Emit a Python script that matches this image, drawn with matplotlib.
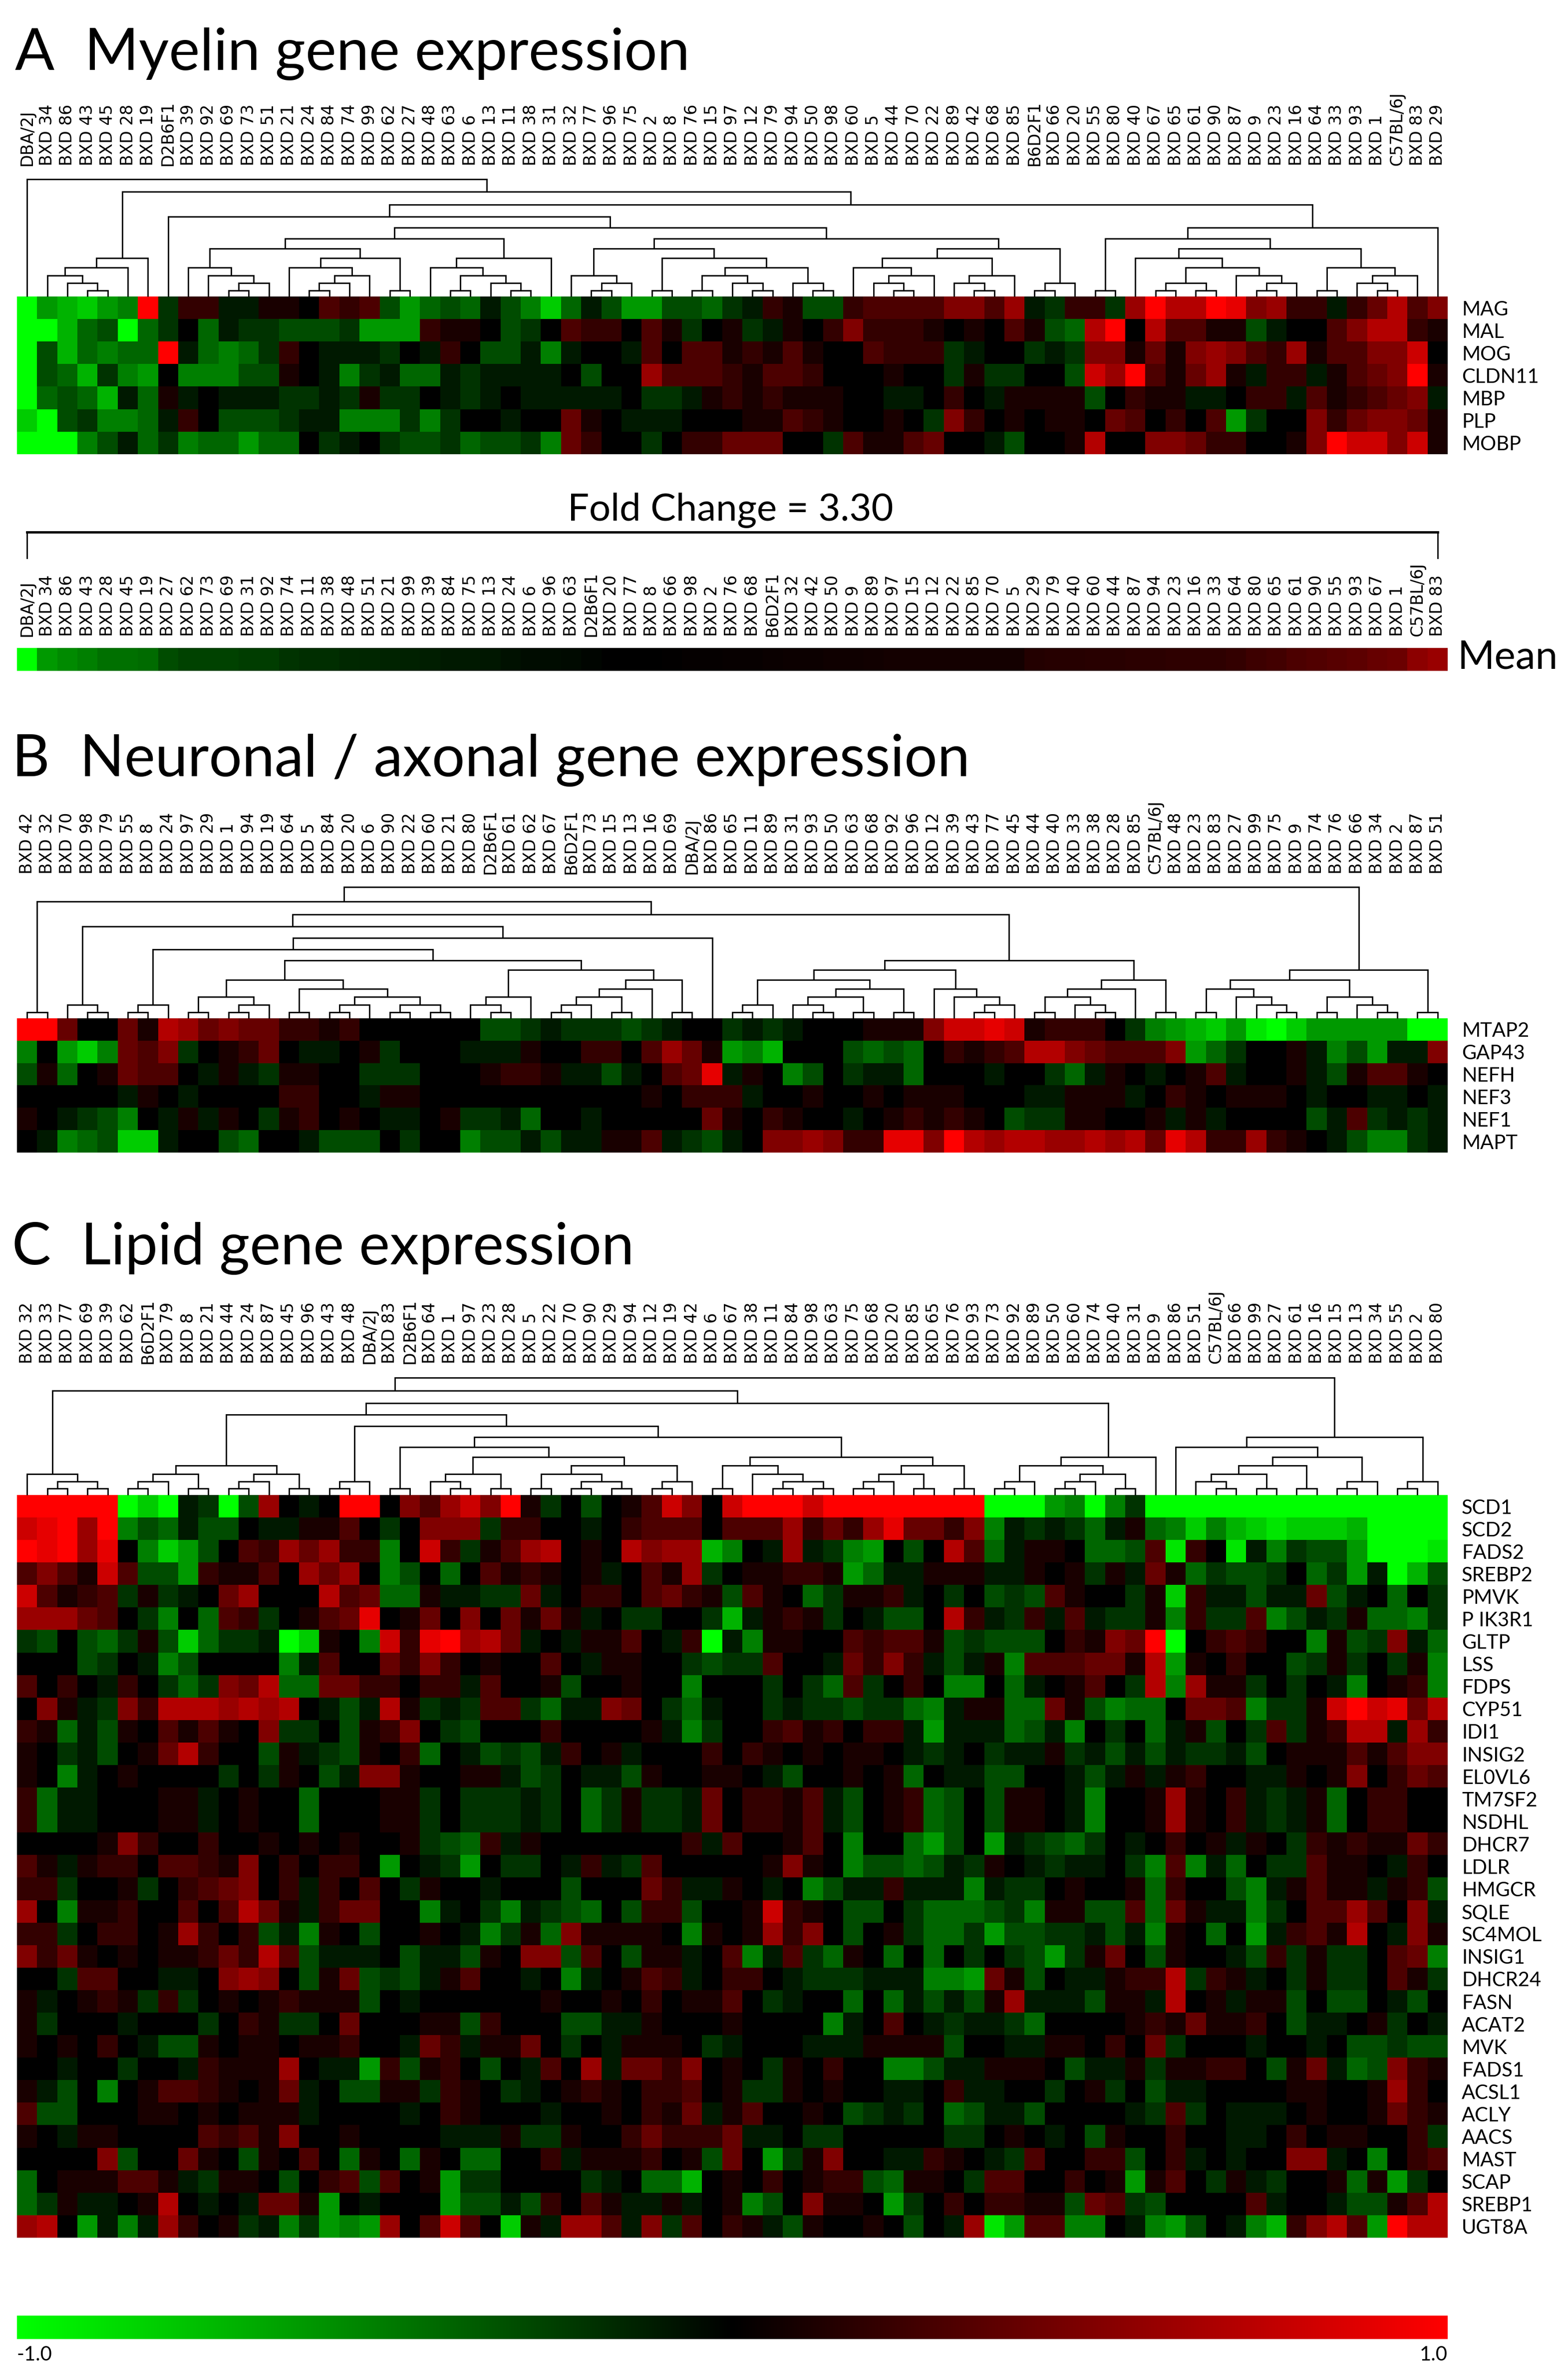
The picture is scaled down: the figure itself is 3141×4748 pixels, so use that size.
import matplotlib
matplotlib.use('Agg')
import matplotlib.pyplot as plt
from matplotlib.cm import ScalarMappable
from matplotlib.colors import LinearSegmentedColormap, Normalize
import numpy as np

# Strain order of each panel, left to right
strains_myelin = ['DBA/2J', 'BXD 34', 'BXD 86', 'BXD 43', 'BXD 45', 'BXD 28', 'BXD 19', 'D2B6F1', 'BXD 39', 'BXD 92', 'BXD 69', 'BXD 73', 'BXD 51', 'BXD 21', 'BXD 24', 'BXD 84', 'BXD 74', 'BXD 99', 'BXD 62', 'BXD 27', 'BXD 48', 'BXD 63', 'BXD 6', 'BXD 13', 'BXD 11', 'BXD 38', 'BXD 31', 'BXD 32', 'BXD 77', 'BXD 96', 'BXD 75', 'BXD 2', 'BXD 8', 'BXD 76', 'BXD 15', 'BXD 97', 'BXD 12', 'BXD 79', 'BXD 94', 'BXD 50', 'BXD 98', 'BXD 60', 'BXD 5', 'BXD 44', 'BXD 70', 'BXD 22', 'BXD 89', 'BXD 42', 'BXD 68', 'BXD 85', 'B6D2F1', 'BXD 66', 'BXD 20', 'BXD 55', 'BXD 80', 'BXD 40', 'BXD 67', 'BXD 65', 'BXD 61', 'BXD 90', 'BXD 87', 'BXD 9', 'BXD 23', 'BXD 16', 'BXD 64', 'BXD 33', 'BXD 93', 'BXD 1', 'C57BL/6J', 'BXD 83', 'BXD 29']
strains_mean = ['DBA/2J', 'BXD 34', 'BXD 86', 'BXD 43', 'BXD 28', 'BXD 45', 'BXD 19', 'BXD 27', 'BXD 62', 'BXD 73', 'BXD 69', 'BXD 31', 'BXD 92', 'BXD 74', 'BXD 11', 'BXD 38', 'BXD 48', 'BXD 51', 'BXD 21', 'BXD 99', 'BXD 39', 'BXD 84', 'BXD 75', 'BXD 13', 'BXD 24', 'BXD 6', 'BXD 96', 'BXD 63', 'D2B6F1', 'BXD 20', 'BXD 77', 'BXD 8', 'BXD 66', 'BXD 98', 'BXD 2', 'BXD 76', 'BXD 68', 'B6D2F1', 'BXD 32', 'BXD 42', 'BXD 50', 'BXD 9', 'BXD 89', 'BXD 97', 'BXD 15', 'BXD 12', 'BXD 22', 'BXD 85', 'BXD 70', 'BXD 5', 'BXD 29', 'BXD 79', 'BXD 40', 'BXD 60', 'BXD 44', 'BXD 87', 'BXD 94', 'BXD 23', 'BXD 16', 'BXD 33', 'BXD 64', 'BXD 80', 'BXD 65', 'BXD 61', 'BXD 90', 'BXD 55', 'BXD 93', 'BXD 67', 'BXD 1', 'C57BL/6J', 'BXD 83']
strains_neuron = ['BXD 42', 'BXD 32', 'BXD 70', 'BXD 98', 'BXD 79', 'BXD 55', 'BXD 8', 'BXD 24', 'BXD 97', 'BXD 29', 'BXD 1', 'BXD 94', 'BXD 19', 'BXD 64', 'BXD 5', 'BXD 84', 'BXD 20', 'BXD 6', 'BXD 90', 'BXD 22', 'BXD 60', 'BXD 21', 'BXD 80', 'D2B6F1', 'BXD 61', 'BXD 62', 'BXD 67', 'B6D2F1', 'BXD 73', 'BXD 15', 'BXD 13', 'BXD 16', 'BXD 69', 'DBA/2J', 'BXD 86', 'BXD 65', 'BXD 11', 'BXD 89', 'BXD 31', 'BXD 93', 'BXD 50', 'BXD 63', 'BXD 68', 'BXD 92', 'BXD 96', 'BXD 12', 'BXD 39', 'BXD 43', 'BXD 77', 'BXD 45', 'BXD 44', 'BXD 40', 'BXD 33', 'BXD 38', 'BXD 28', 'BXD 85', 'C57BL/6J', 'BXD 48', 'BXD 23', 'BXD 83', 'BXD 27', 'BXD 99', 'BXD 75', 'BXD 9', 'BXD 74', 'BXD 76', 'BXD 66', 'BXD 34', 'BXD 2', 'BXD 87', 'BXD 51']
strains_lipid = ['BXD 32', 'BXD 33', 'BXD 77', 'BXD 69', 'BXD 39', 'BXD 62', 'B6D2F1', 'BXD 79', 'BXD 8', 'BXD 21', 'BXD 44', 'BXD 24', 'BXD 87', 'BXD 45', 'BXD 96', 'BXD 43', 'BXD 48', 'DBA/2J', 'BXD 83', 'D2B6F1', 'BXD 64', 'BXD 1', 'BXD 97', 'BXD 23', 'BXD 28', 'BXD 5', 'BXD 22', 'BXD 70', 'BXD 90', 'BXD 29', 'BXD 94', 'BXD 12', 'BXD 19', 'BXD 42', 'BXD 6', 'BXD 67', 'BXD 38', 'BXD 11', 'BXD 84', 'BXD 98', 'BXD 63', 'BXD 75', 'BXD 68', 'BXD 20', 'BXD 85', 'BXD 65', 'BXD 76', 'BXD 93', 'BXD 73', 'BXD 92', 'BXD 89', 'BXD 50', 'BXD 60', 'BXD 74', 'BXD 40', 'BXD 31', 'BXD 9', 'BXD 86', 'BXD 51', 'C57BL/6J', 'BXD 66', 'BXD 99', 'BXD 27', 'BXD 61', 'BXD 16', 'BXD 15', 'BXD 13', 'BXD 34', 'BXD 55', 'BXD 2', 'BXD 80']

genes_myelin = ['MAG', 'MAL', 'MOG', 'CLDN11', 'MBP', 'PLP', 'MOBP']
genes_neuron = ['MTAP2', 'GAP43', 'NEFH', 'NEF3', 'NEF1', 'MAPT']
genes_lipid = ['SCD1', 'SCD2', 'FADS2', 'SREBP2', 'PMVK', 'P IK3R1', 'GLTP', 'LSS', 'FDPS', 'CYP51', 'IDI1', 'INSIG2', 'EL0VL6', 'TM7SF2', 'NSDHL', 'DHCR7', 'LDLR', 'HMGCR', 'SQLE', 'SC4MOL', 'INSIG1', 'DHCR24', 'FASN', 'ACAT2', 'MVK', 'FADS1', 'ACSL1', 'ACLY', 'AACS', 'MAST', 'SCAP', 'SREBP1', 'UGT8A']

# Expression values in tenths
mag = [-10,-6,-7,-8,-6,-5,10,-2,2,2,-1,-1,1,1,0,3,2,3,-3,-6,-4,-3,-4,-1,-3,-5,-8,-4,-1,-3,-6,-6,-3,-3,-4,-2,-1,2,1,-3,-3,2,3,3,3,3,5,5,3,6,-1,-2,2,2,-2,6,10,7,7,10,9,5,6,2,2,-1,2,4,7,3,5]
mal = [-10,-10,-7,-4,-3,-10,-4,-2,0,-4,-1,-2,-2,-3,-3,-3,-2,-6,-6,-6,2,1,1,0,-3,-2,0,3,2,2,0,3,1,-2,0,1,-2,-1,1,0,2,5,2,2,2,1,0,1,0,3,1,-3,-4,7,10,0,7,3,3,1,1,-3,-1,0,0,3,5,7,7,2,1]
mog = [-10,-3,-7,-4,-5,-4,-4,10,-1,-4,-5,-4,-2,2,0,-1,-1,-1,-2,0,-1,2,0,-3,-3,-1,-5,-1,0,0,-1,3,0,3,3,1,2,1,3,1,0,0,3,2,2,2,-2,-1,0,0,-2,-1,-2,5,5,1,4,1,5,6,5,3,2,6,1,3,3,5,5,8,0]
cldn11 = [-10,-3,-4,-7,-2,-5,-6,0,-5,-5,-5,-3,-3,1,0,-1,-5,-2,-1,-4,-4,-1,-2,-1,-1,-1,-1,0,-3,0,0,6,3,3,3,2,1,3,3,2,0,0,0,1,0,0,-2,1,-2,-2,0,0,-3,8,6,10,3,1,4,6,1,-1,2,2,-1,1,3,4,5,10,1]
mbp = [-10,-4,-3,-4,-7,-1,-4,1,-1,0,-1,-1,-1,-2,-2,-1,-2,1,-2,-2,0,-1,-2,-1,0,-1,-1,-1,-1,-1,0,-2,-2,-1,1,2,1,2,1,1,1,0,0,-1,-1,0,2,0,-1,1,1,1,1,-3,0,2,1,1,-1,-1,0,2,2,-1,3,1,2,3,4,5,-1]
plp = [-8,-10,-3,-2,-5,-5,-4,-1,2,0,-3,-3,-3,-2,-1,-1,-5,-5,-5,-2,-5,-2,0,0,-1,0,0,4,1,0,-1,-1,-1,0,0,0,1,1,3,2,1,0,0,1,0,-2,5,2,0,1,0,1,1,0,4,3,0,2,0,3,-6,-2,0,0,5,2,4,5,5,4,1]
mobp = [-10,-10,-10,-5,-3,-1,-4,-2,-5,-4,-4,-6,-4,-4,0,-2,-1,0,-2,-3,-3,-2,-4,-3,-3,-2,-5,4,2,0,0,-2,0,2,2,4,4,4,0,0,-2,3,1,1,3,4,0,0,-1,-3,0,0,1,7,0,0,5,5,4,2,2,0,0,1,5,10,8,8,5,8,1]

mean_expr = [-10,-6,-5.4,-5,-4.4,-4.4,-4.2,-3,-2.6,-2.6,-2.6,-2.4,-2.4,-2,-1.8,-1.8,-1.6,-1.5,-1.4,-1.3,-1.2,-1,-1,-0.9,-0.7,-0.5,-0.5,-0.4,-0.2,0,0,0,0.1,0.2,0.2,0.3,0.3,0.4,0.5,0.5,0.6,0.6,0.7,0.8,0.8,0.8,0.8,0.8,0.8,0.8,1.4,1.5,1.5,1.6,1.6,1.7,1.7,1.8,1.8,1.8,2,2.4,2.6,3,3.2,3.4,3.6,4,4.2,5.5,6]

mtap2 = [10,10,4,0,0,4,1,7,6,4,5,4,4,2,2,1,2,0,0,0,0,0,0,-3,-3,-2,-1,-2,-2,-2,-3,-2,-1,0,0,-2,-1,-2,-1,0,0,0,1,1,1,5,8,8,9,8,1,2,2,2,0,-2,-5,-6,-7,-8,-6,-9,-10,-8,-6,-6,-6,-6,-6,-10,-10]
gap43 = [-5,0,-6,-8,-5,4,3,5,-2,0,1,2,4,0,-1,-1,0,1,-2,0,0,0,-1,-1,-1,1,0,0,2,2,0,3,6,4,1,-6,-5,-7,0,0,0,-3,-4,-3,-4,0,2,1,2,3,7,7,5,4,3,3,3,5,-6,-4,-2,0,0,1,-1,-5,-3,-6,-1,-1,5]
nefh = [-3,1,-4,0,1,4,3,3,0,-1,1,-1,-2,1,1,0,0,-2,-2,-2,0,0,0,1,2,2,1,-1,-1,-3,-1,0,3,4,9,-1,1,0,-5,-3,0,-2,-1,-1,-4,0,0,0,-1,0,0,-2,-4,-1,1,0,-1,0,1,3,-1,0,0,1,-1,-3,1,3,3,1,0]
nef3 = [0,0,0,0,0,-1,1,0,-1,0,0,0,0,2,2,0,0,-1,1,1,0,0,0,0,0,0,0,0,0,0,0,1,0,2,2,2,-1,0,0,1,0,0,1,0,1,1,1,0,0,0,-1,-1,1,1,1,-1,0,2,1,0,1,1,1,0,-1,0,0,-1,-1,0,-1]
nef1 = [1,0,-1,-2,-3,-5,0,-1,1,-1,1,0,-2,1,2,0,1,0,-1,-1,0,1,-2,-2,-1,-4,0,0,-1,0,0,0,0,0,4,1,0,2,1,0,0,-1,0,1,2,1,2,1,0,-3,-2,-2,1,1,0,0,1,-1,1,-1,0,0,0,0,-3,-1,3,-2,-1,-2,-1]
mapt = [0,-1,-5,-4,-3,-8,-8,-1,0,0,-3,-4,0,0,-1,-3,-3,-3,0,-2,0,0,-5,-3,-3,-1,-3,-1,-1,1,1,3,-1,-2,-3,-1,0,5,5,6,5,2,2,9,9,5,10,7,6,7,7,6,6,7,6,7,4,9,7,2,2,6,2,1,0,-1,-3,-5,-5,-2,-1]

scd1 = [10,10,10,10,10,-10,-8,-10,-1,-2,-10,-3,6,0,-1,0,10,10,0,5,3,6,8,5,10,1,-2,0,-3,0,1,3,8,5,0,8,10,10,10,8,10,10,10,10,10,10,10,10,-10,-10,-10,-6,-5,-10,-5,-2,-10,-10,-10,-10,-10,-10,-10,-10,-10,-10,-10,-10,-10,-10,-10]
scd2 = [8,9,10,6,10,-5,-3,-4,-1,-3,-3,0,-1,-1,1,1,3,0,-2,0,5,5,5,-2,2,2,0,0,-1,0,2,3,3,3,0,3,3,3,6,2,4,2,6,9,4,4,2,5,-5,-1,-2,-1,-2,-4,-1,1,-4,-5,-8,-5,-7,-8,-9,-8,-8,-8,-7,-10,-10,-10,-10]
fads2 = [10,9,10,6,9,0,-5,-8,-6,-3,0,3,2,6,4,6,2,2,-5,0,8,2,-2,1,3,6,7,0,1,0,7,5,6,6,-7,-5,0,-1,6,-1,-2,-5,-6,0,-3,0,7,3,-4,-1,1,1,0,-4,-4,-3,3,-9,2,0,-9,-1,-5,-2,-3,-3,-6,-10,-10,-10,-9]
srebp2 = [3,5,3,1,8,3,-3,-3,-6,2,1,1,3,0,6,4,6,0,-5,-3,0,-4,0,3,1,2,1,0,1,-1,0,3,1,6,-2,0,1,1,2,2,1,-6,-4,-1,-1,1,1,1,-1,-1,1,0,1,-2,1,-1,4,1,-4,-2,-3,-3,-2,0,-4,-2,-6,-1,-10,-7,-3]
pmvk = [8,3,1,2,3,-2,1,-2,-1,0,4,6,0,0,0,7,3,4,-4,-4,1,-1,-1,-2,-2,4,-1,0,2,2,0,3,4,2,1,-3,3,1,0,-4,-2,1,1,2,-1,0,-2,0,-3,-2,-3,3,1,0,0,-2,1,-8,2,-1,-1,-3,-1,-1,4,-3,-1,0,-4,0,-2]
pik3r1 = [6,6,6,4,3,0,-2,-5,0,-4,3,2,-2,0,1,3,4,9,0,1,4,0,5,0,4,1,4,1,-1,0,-2,-2,0,0,-2,-7,-1,1,2,1,-2,0,-1,-3,-3,0,7,2,-1,-2,2,-1,3,-1,-2,-2,1,-5,2,-2,-2,3,-5,-3,-1,-2,1,-4,-4,-5,-2]
gltp = [-2,-3,0,-3,-4,-2,1,-3,-8,-4,-2,-2,-1,-10,-8,1,0,-5,8,2,9,10,6,7,4,-1,0,-1,1,1,3,0,-1,2,-10,-1,-5,1,1,0,0,3,2,3,3,1,-3,-2,-3,-3,-3,0,2,1,5,4,10,-10,0,2,3,2,0,0,-5,1,-3,-2,5,-1,-4]
lss = [0,0,0,-3,-2,0,-1,-5,-3,0,0,0,0,-5,-1,3,0,0,4,2,5,2,0,1,0,0,3,0,-1,1,1,0,0,-2,-3,-2,-2,3,0,0,-1,4,2,5,2,-1,-3,-1,1,-5,3,3,3,4,4,1,7,-6,1,0,2,0,0,-3,-2,1,-2,0,-2,1,-5]
fdps = [3,0,2,0,-1,2,0,-2,-4,-2,5,4,7,-4,-4,4,4,2,2,0,2,2,-1,3,0,0,1,-3,0,0,1,0,0,-5,0,0,0,-2,0,-2,-4,3,-2,0,2,0,-5,-5,0,-4,-1,0,1,3,0,-2,7,-5,6,1,1,-2,0,-2,0,-1,-5,0,1,2,-5]
cyp51 = [0,5,1,-1,-2,5,2,7,7,7,6,7,6,7,0,-1,-3,-1,7,1,-2,-1,-2,3,3,-2,-4,-1,-1,5,4,0,-2,-4,-1,0,0,-2,-1,-2,-2,-3,-2,-2,-4,-5,-1,1,1,-4,-4,4,1,-3,-5,-4,-4,0,4,4,3,-5,-2,-2,1,8,10,8,9,4,7]
idi1 = [2,1,-4,-1,-3,1,0,3,1,3,1,0,5,-2,-2,0,-3,1,2,5,0,-2,-3,0,0,0,2,0,0,0,0,1,-1,-5,-2,0,0,2,3,1,2,0,2,2,-1,-6,-1,-1,-1,-4,-3,-1,-5,0,-2,0,-4,-1,1,-3,0,-2,3,-2,1,2,7,7,-1,6,2]
insig2 = [1,0,-2,-1,-3,0,1,4,7,2,0,0,-3,1,-1,-2,-3,1,0,2,-4,0,-1,-3,-2,-3,-1,2,0,1,-1,0,0,0,2,0,2,1,0,1,0,1,1,0,-1,-2,-1,0,-2,-1,-1,1,-2,-1,-3,-1,-3,-1,-2,-2,-1,-3,0,1,1,1,3,1,3,5,5]
elovl6 = [1,0,-5,-1,0,1,0,0,0,0,-2,0,-2,1,0,-3,-1,5,5,1,0,0,1,1,-1,-3,-2,0,-1,-1,-3,1,0,0,1,1,0,-1,-3,0,0,1,0,1,-4,0,-1,-1,-3,-3,0,0,-1,-3,-1,1,-1,1,2,0,0,-1,-1,1,0,1,5,0,2,4,3]
tm7sf2 = [2,-4,-1,-1,0,0,0,1,1,-1,0,1,0,0,-4,0,0,0,1,1,-2,0,-2,-2,-2,-1,-2,0,-4,-2,1,-2,-2,-1,4,0,2,2,1,3,-1,-3,0,1,2,-4,-3,0,-3,1,1,0,-1,-5,0,0,1,6,1,0,2,-1,-2,-1,1,-4,0,2,2,0,0]
nsdhl = [2,-4,-1,-1,0,0,0,1,1,-1,0,1,0,0,-4,0,0,0,1,1,-2,0,-2,-2,-2,-1,-2,0,-4,-2,1,-2,-2,-1,4,0,2,2,1,3,-1,-3,0,1,2,-4,-3,0,-3,1,1,0,-1,-5,0,0,1,6,1,0,2,-1,-2,-1,1,-4,0,2,2,0,0]
dhcr7 = [0,0,0,0,1,5,2,0,0,2,0,0,1,0,1,0,1,0,0,1,-2,-3,-4,2,-1,1,0,0,0,0,0,0,0,2,-1,3,0,0,1,3,0,-5,0,0,-4,-6,-3,0,-6,-1,-2,-3,-4,-2,0,-1,0,2,0,1,-1,1,0,-2,2,1,2,1,1,4,2]
ldlr = [3,1,-1,1,2,2,0,3,3,2,1,5,0,2,0,2,2,0,-6,0,-1,-2,-6,0,-2,-2,0,-1,2,-1,-2,3,0,0,0,0,0,1,5,1,0,-5,-3,-3,-4,-3,-1,-2,1,0,-1,-2,-1,-1,0,-2,-5,3,-5,-1,-4,0,-2,-2,3,1,1,0,-1,2,0]
hmgcr = [2,2,-2,0,0,1,-2,0,2,3,4,5,0,2,-1,2,0,3,0,-2,1,0,0,-1,0,0,0,-3,0,0,0,4,2,-1,-1,1,0,-1,0,-5,-3,-1,-1,2,-1,-1,-1,-5,-1,-2,-2,0,1,0,0,1,-4,2,0,0,-3,-5,-1,1,3,1,1,-1,1,2,-3]
sqle = [6,0,-5,1,1,2,0,0,3,0,3,7,4,1,-1,2,4,4,0,0,-5,-1,0,-2,-5,-1,-2,-3,-4,0,-3,2,2,-3,0,0,1,8,2,1,0,-3,-3,0,-2,-4,-4,-4,-3,-2,-5,1,1,-3,-3,3,-4,4,1,-1,-1,-5,-2,0,3,3,6,3,0,5,-1]
sc4mol = [2,2,-2,0,2,2,0,1,6,2,0,2,-3,-1,-5,1,0,-3,0,0,1,0,-1,-5,-2,1,-4,5,1,1,1,1,0,-5,1,0,1,6,2,5,0,-3,0,1,-2,-4,-4,-2,-6,-3,-3,-2,-2,-1,-3,-1,-5,1,0,-4,0,-6,-1,2,3,1,7,0,-1,5,1]
insig1 = [5,2,4,1,0,1,0,1,1,2,4,2,7,3,-3,-1,-1,-1,0,-3,-1,-1,-3,1,0,5,5,-3,3,0,-3,1,1,-1,0,3,-5,-1,3,-2,-4,1,0,-4,0,-4,0,-2,0,-2,-3,-6,-2,1,4,0,-3,1,0,0,-1,-3,2,-2,1,-2,-2,0,3,4,-5]
dhcr24 = [0,0,-2,3,3,0,0,-1,-1,0,5,6,5,0,-3,1,4,-3,-2,-3,-1,1,3,0,0,-1,0,-5,-1,0,1,3,2,-1,0,2,2,0,-1,-2,-2,-2,-1,-1,-1,-5,-5,-6,4,1,-3,0,-1,-1,1,2,2,7,-2,2,1,-1,0,-2,1,-2,-2,0,3,1,-2]
fasn = [1,-1,0,1,2,1,-2,2,-2,0,1,0,1,2,1,1,1,-3,0,-1,0,0,0,0,0,0,1,0,0,1,0,2,0,1,1,3,0,-2,-1,0,0,-4,0,-4,-1,-3,-1,-3,1,6,-1,-1,-1,-3,1,1,-1,7,0,1,-1,1,1,-3,0,-3,-3,0,-1,-3,0]
acat2 = [1,-2,0,0,0,-1,0,0,0,-2,0,2,1,-2,-2,0,4,0,0,0,1,1,-3,2,0,0,0,-3,-3,-1,-1,1,0,0,0,1,0,0,0,0,-5,-1,0,3,0,-1,-2,-1,-1,-2,-4,0,0,0,0,1,2,1,4,1,1,2,0,-3,-1,-1,0,1,-2,0,-1]
mvk = [1,0,1,0,2,0,-1,-3,-3,1,0,1,1,0,1,1,2,0,0,-1,4,2,-1,1,1,4,0,-2,0,-1,1,1,1,0,-2,-1,0,0,0,-1,-1,-1,1,1,1,1,-3,0,0,-1,-1,1,1,0,2,0,4,-2,0,0,0,-1,0,0,-1,0,-3,-3,-2,-3,-3]
fads1 = [0,0,-1,0,0,-2,0,0,-1,2,1,1,1,6,0,-1,-1,-6,2,-3,1,2,0,-3,0,-1,3,0,6,-1,4,4,2,5,0,1,0,-2,1,0,2,0,0,-5,-5,-3,-1,-1,1,1,1,0,-3,-1,-1,1,-2,1,1,2,2,0,-3,1,4,-1,-4,-3,5,2,1]
acsl1 = [1,-1,-3,0,-5,0,1,3,3,2,1,0,1,4,-1,0,-3,-3,1,1,-2,2,1,0,-2,-1,0,1,2,1,0,2,2,3,0,1,-2,-2,1,0,1,0,0,-1,-1,0,2,-1,-1,0,0,-2,0,1,-2,0,-3,-1,-1,0,0,0,0,1,1,0,0,1,6,2,0]
acly = [3,-3,-3,0,0,0,1,1,0,1,0,1,1,1,-1,0,0,0,0,-1,0,2,1,0,0,0,-1,0,0,1,0,2,1,4,-1,1,3,0,0,1,0,-3,-2,-1,-2,0,-4,-3,-1,-1,-3,0,0,0,0,-1,-2,3,-2,0,-1,-1,-1,0,1,0,0,1,4,2,1]
aacs = [1,0,-1,1,1,0,0,0,0,3,2,3,1,5,0,0,1,0,0,0,0,-1,-1,-1,1,-2,-2,1,0,0,2,4,2,2,2,4,-1,-1,0,-2,-2,0,0,0,0,0,-2,-2,0,1,0,-1,0,-3,1,0,0,2,0,0,-1,-1,0,2,0,1,1,0,0,2,-2]
mast = [0,0,0,0,5,-3,0,0,4,1,0,-3,1,0,3,0,-4,1,0,-4,1,0,-4,-4,0,0,2,-1,1,1,1,2,0,1,-3,4,0,-6,-2,1,5,0,0,-1,-1,2,1,0,-1,-2,3,0,0,2,2,-3,0,2,-1,0,-1,0,0,5,5,-1,0,-5,0,2,3]
scap = [-4,0,1,1,1,3,3,1,-1,-2,1,1,0,-3,0,2,3,-3,3,0,1,-6,-2,-2,0,0,0,0,-2,-1,0,-4,-4,-7,0,1,0,2,0,1,2,2,-3,-4,1,1,0,-2,3,3,0,0,2,0,1,-6,1,3,0,-2,1,-1,-2,0,0,1,-4,1,-6,-2,0]
srebp1 = [-4,-2,1,-1,-1,0,1,7,0,-1,0,-1,4,4,1,-6,0,-1,0,0,0,-6,-3,-3,-1,-3,2,0,3,1,-1,-1,1,-1,0,1,-5,-3,0,5,1,1,0,-6,-2,0,2,0,2,2,1,1,-3,4,3,-2,-3,0,0,0,0,3,-1,0,0,-1,-3,-3,1,3,7]
ugt8a = [6,7,0,-6,-1,-5,-1,6,2,0,1,-2,-1,-5,-2,-6,-5,-6,6,0,3,8,3,0,-8,1,-1,6,6,3,-1,5,-2,3,0,2,1,-1,-3,1,0,0,1,0,-3,0,-1,6,-9,-6,3,3,-5,-5,0,-1,-5,-6,-3,0,-1,-5,-7,2,5,7,3,-6,10,7,7]

rows_myelin = [mag, mal, mog, cldn11, mbp, plp, mobp]
rows_neuron = [mtap2, gap43, nefh, nef3, nef1, mapt]
rows_lipid = [scd1, scd2, fads2, srebp2, pmvk, pik3r1, gltp, lss, fdps, cyp51, idi1, insig2, elovl6, tm7sf2, nsdhl, dhcr7, ldlr, hmgcr, sqle, sc4mol, insig1, dhcr24, fasn, acat2, mvk, fads1, acsl1, acly, aacs, mast, scap, srebp1, ugt8a]

# Clustering trees as [height, left, right], o is a leaf
o = None
tree_myelin = [235, o, [210,
    [77, [58, [42, o, [27, o, [12, o, o]]], o], o],
    [184,
     [160, o, [138,
               [116,
                [96,
                 [58, o, [42, o, [27, [12, o, o], o]]],
                 [77, [58, o, [42, [27, [12, o, o], o], o]], [12, o, o]]],
                [77, [58, o, [42, [12, o, o], [27, o, [12, o, o]]]], o]],
               [116,
                [96,
                 [42, o, [27, [12, o, o], o]],
                 [77, [12, o, o], [58, [42, [12, o, o], [27, o, [12, o, o]]], [27, o, [12, o, o]]]]],
                [96,
                 [77, [58, o, [42, [27, o, [12, o, o]], o]], [42, [27, o, [12, o, o]], o]],
                 [27, [12, o, o], o]]]]],
     [138,
      [116, [12, o, o],
       [96,
        [77, o, [58, [27, [12, o, o], [12, o, o]], [42, o, [27, [12, o, o], o]]]],
        [58, [12, o, o], [42, [27, o, [12, o, o]], o]]]],
      o]]]]

tree_neuron = [263,
    [234, [12, o, o],
     [208,
      [184, [27, o, [12, o, o]],
       [161,
        [138, [27, [12, o, o], o],
         [116,
          [77,
           [43, [12, o, o], [27, [12, o, o], o]],
           [59, [12, o, o], [43, [27, [12, o, o], o], [27, [12, o, o], [12, o, o]]]]],
          [97,
           [43, [27, o, [12, o, o]], o],
           [77, [59, [43, [27, [12, o, o], o], [12, o, o]], o], [12, o, o]]]]],
        o]],
      [116,
       [97,
        [77, [27, [12, o, o], o], [59, [43, [27, o, [12, o, o]], [12, o, o]], [12, o, o]]],
        [59, o, [43, o, [27, [12, o, o], o]]]],
       [77, [59, [43, [12, o, o], [27, o, [12, o, o]]], o], [12, o, o]]]]],
    [97,
     [77,
      [59, [12, o, o], [43, o, [27, o, [12, o, o]]]],
      [43, [12, o, o], [27, o, [12, o, o]]]],
     [12, o, o]]]

tree_lipid = [235,
    [209,
     [42, o, [27, [13, o, o], [13, o, o]]],
     [184,
      [161,
       [59, [42, [27, [13, o, o], o], [13, o, o]], [42, [27, [13, o, o], o], [13, o, o]]],
       [138,
        [27, [13, o, o], o],
        [116,
         [96, [13, o, o],
          [76,
           [42, [27, o, [13, o, o]], [13, o, o]],
           [59, [42, [13, o, o], [27, [13, o, o], [13, o, o]]], [27, [13, o, o], o]]]],
         [76,
          [59, [13, o, o], [42, o, [27, [13, o, o], [13, o, o]]]],
          [59, [42, [27, [13, o, o], o], [13, o, o]], [13, o, o]]]]]],
      [76,
       [59, [27, [13, o, o], o], [42, [27, [13, o, o], o], [13, o, o]]],
       o]]],
    [116,
     [96, o,
      [76,
       [59, [42, [27, o, [13, o, o]], [13, o, o]], [13, o, o]],
       [27, [13, o, o], o]]],
     [27, [13, o, o], o]]]

W, H = 3141, 4748
DPI = 100
LEFT, RIGHT = 34, 2900
px = 72 / DPI
LABEL_SIZE = 33 * px
GENE_SIZE = 40 * px
TITLE_SIZE = 117 * px
FOLD_SIZE = 76 * px
MEAN_SIZE = 80 * px

cmap = LinearSegmentedColormap.from_list('gbr', ['#00ff00', '#000000', '#ff0000'], N=512)

fig = plt.figure(figsize=(W / DPI, H / DPI), dpi=DPI)


def box(top, bottom):
    return fig.add_axes([LEFT / W, 1 - bottom / H, (RIGHT - LEFT) / W, (bottom - top) / H])


def heat(top, bottom, rows, strains, label_bottom, genes=None):
    ax = box(top, bottom)
    ax.imshow(np.array(rows) / 10, cmap=cmap, vmin=-1, vmax=1, aspect='auto', interpolation='nearest')
    ax.xaxis.tick_top()
    ax.set_xticks(range(len(strains)), strains, rotation=90, family='DejaVu Sans', fontsize=LABEL_SIZE)
    ax.tick_params(axis='x', length=0, pad=(top - label_bottom) * px)
    if genes:
        ax.yaxis.tick_right()
        ax.set_yticks(range(len(genes)), genes, family='Lato', fontsize=GENE_SIZE)
        ax.tick_params(axis='y', length=0, pad=28 * px)
    else:
        ax.set_yticks([])
    for spine in ax.spines.values():
        spine.set_visible(False)
    return ax


def draw_tree(ax, node, leaf):
    if node is None:
        leaf[0] += 1
        return leaf[0] - 0.5, 0
    h, left, right = node
    x0, h0 = draw_tree(ax, left, leaf)
    x1, h1 = draw_tree(ax, right, leaf)
    ax.plot([x0, x0, x1, x1], [h0, h, h, h1], color='black', lw=2.0, solid_joinstyle='miter', solid_capstyle='butt', clip_on=False)
    return (x0 + x1) / 2, h


def dendrogram(top, tree):
    ax = box(top - 280, top)
    ax.set_xlim(0, 71)
    ax.set_ylim(0, 280)
    ax.axis('off')
    draw_tree(ax, tree, [0])


# Panel A
fig.text(30 / W, 1 - 140 / H, 'A  Myelin gene expression', family='Lato', fontsize=TITLE_SIZE, va='baseline')
heat(594, 910, rows_myelin, strains_myelin, 332, genes_myelin)
dendrogram(594, tree_myelin)

# Fold change bracket
ax = box(1066, 1118)
ax.set_xlim(0, 71)
ax.set_ylim(0, 52)
ax.axis('off')
ax.plot([0.5, 0.5], [0, 52], color='black', lw=2, clip_on=False)
ax.plot([70.5, 70.5], [0, 52], color='black', lw=2, clip_on=False)
ax.plot([0.5, 70.5], [52, 52], color='black', lw=3.4, clip_on=False)
fig.text(1463 / W, 1 - 1043 / H, 'Fold Change = 3.30', family='Lato', fontsize=FOLD_SIZE, ha='center', va='baseline')

# Mean bar
heat(1298, 1344, [mean_expr], strains_mean, 1275)
fig.text(2920 / W, 1 - 1339 / H, 'Mean', family='Lato', fontsize=MEAN_SIZE, va='baseline')

# Panel B
fig.text(24 / W, 1 - 1555 / H, 'B  Neuronal / axonal gene expression', family='Lato', fontsize=TITLE_SIZE, va='baseline')
heat(2040, 2309, rows_neuron, strains_neuron, 1751, genes_neuron)
dendrogram(2040, tree_neuron)

# Panel C
fig.text(24 / W, 1 - 2533 / H, 'C  Lipid gene expression', family='Lato', fontsize=TITLE_SIZE, va='baseline')
heat(2995, 4483, rows_lipid, strains_lipid, 2732, genes_lipid)
dendrogram(2995, tree_lipid)

# Colour scale
cax = box(4639, 4686)
cbar = fig.colorbar(ScalarMappable(Normalize(-1, 1), cmap), cax=cax, orientation='horizontal')
cbar.set_ticks([])
cbar.outline.set_visible(False)
fig.text(LEFT / W, 1 - 4729 / H, '-1.0', family='Lato', fontsize=GENE_SIZE, va='baseline')
fig.text(RIGHT / W, 1 - 4729 / H, '1.0', family='Lato', fontsize=GENE_SIZE, ha='right', va='baseline')

fig.savefig('out.png', dpi=DPI)
